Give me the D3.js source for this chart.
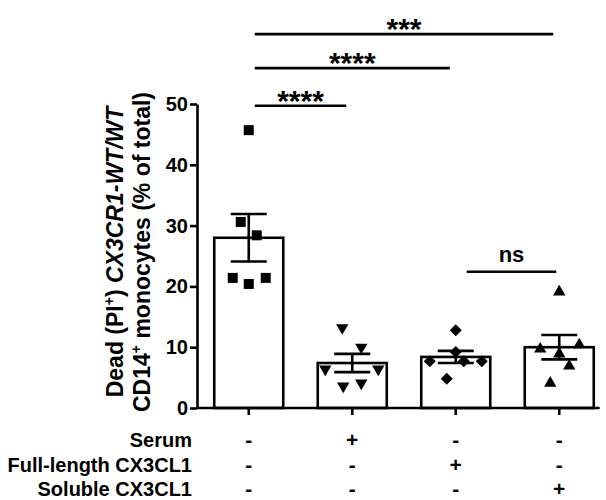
<!DOCTYPE html>
<html lang="en">
<head>
    <meta charset="UTF-8">
    <title>Dead CD14+ monocytes</title>
    <script src="https://cdn.jsdelivr.net/npm/d3@7/dist/d3.min.js"></script>
    <style>
        body { margin: 0; background: #fff; }
        text { font-family: "Liberation Sans", Arial, sans-serif; font-weight: bold; fill: #000; }
    </style>
</head>
<body>

<script>
    // data
    var groups = ["none", "serum", "full", "soluble"];
    var means = [28.0, 7.4, 8.4, 10.0];
    var sems = [3.9, 1.5, 1.0, 2.0];
    var points = [
        [45.7, 30.6, 28.4, 21.4, 20.4, 21.4],
        [13.2, 10.0, 6.4, 6.4, 3.6, 4.1],
        [12.8, 9.2, 7.7, 7.7, 7.7, 4.8],
        [19.1, 9.7, 8.9, 10.4, 6.9, 4.1]
    ];
    var yTicks = [0, 10, 20, 30, 40, 50];
    var rowLabels = ["Serum", "Full-length CX3CL1", "Soluble CX3CL1"];
    var treatment = [
        ["-", "+", "-", "-"],
        ["-", "-", "+", "-"],
        ["-", "-", "-", "+"]
    ];
    var brackets = [
        {a: 0, b: 1, level: 49.7, label: "****"},
        {a: 0, b: 2, level: 55.9, label: "****"},
        {a: 0, b: 3, level: 61.5, label: "***"},
        {a: 2, b: 3, level: 22.4, label: "ns"}
    ];

    // layout: horizontal scatter offsets (px) for each dot
    var jitter = [
        [0, -8, 8, -16, 0, 17],
        [-10, 9, -27, 26, -9, 9],
        [0, 0, -26, 8, 26, -9],
        [0, -19, 0, 20, 10, -9]
    ];

    var width = 606, height = 500;
    var svg = d3.select('body')
            .append('svg')
            .attr('width', width)
            .attr('height', height);

    var y = d3.scaleLinear().domain([0, 50]).range([408, 104]);
    var x = d3.scaleBand()
            .domain(groups)
            .range([197, 611])
            .paddingInner(1 / 3)
            .paddingOuter(1 / 6);

    var shapes = [
        {type: d3.symbolSquare, size: 100, rot: 0},
        {type: d3.symbolTriangle, size: 66, rot: 180},
        {type: d3.symbolSquare, size: 72, rot: 45},
        {type: d3.symbolTriangle, size: 66, rot: 0}
    ];

    var lw = 2.6;

    // bars
    svg.selectAll("rect.bar")
            .data(means)
            .enter()
            .append("rect")
            .attr("class", "bar")
            .attr("x", function (d, i) { return x(groups[i]); })
            .attr("y", function (d) { return y(d); })
            .attr("width", x.bandwidth())
            .attr("height", function (d) { return y(0) - y(d); })
            .attr("fill", "#fff")
            .attr("stroke", "#000")
            .attr("stroke-width", lw);

    // dots
    points.forEach(function (vals, gi) {
        var cx = x(groups[gi]) + x.bandwidth() / 2;
        var sym = d3.symbol().type(shapes[gi].type).size(shapes[gi].size);
        svg.selectAll("path.dot" + gi)
                .data(vals)
                .enter()
                .append("path")
                .attr("class", "dot" + gi)
                .attr("d", sym)
                .attr("fill", "#000")
                .attr("transform", function (d, j) {
                    return "translate(" + (cx + jitter[gi][j]) + "," + y(d) + ") rotate(" + shapes[gi].rot + ")";
                });
    });

    // error bars (mean +/- sem)
    var cap = 18;
    means.forEach(function (m, i) {
        var cx = x(groups[i]) + x.bandwidth() / 2;
        var g = svg.append("g").attr("stroke", "#000").attr("stroke-width", lw);
        g.append("line").attr("x1", cx).attr("x2", cx)
                .attr("y1", y(m + sems[i])).attr("y2", y(m - sems[i]));
        g.append("line").attr("x1", cx - cap).attr("x2", cx + cap)
                .attr("y1", y(m + sems[i])).attr("y2", y(m + sems[i]));
        g.append("line").attr("x1", cx - cap).attr("x2", cx + cap)
                .attr("y1", y(m - sems[i])).attr("y2", y(m - sems[i]));
    });

    // y axis
    var yAxis = svg.append("g")
            .attr("transform", "translate(197,0)")
            .call(d3.axisLeft(y).tickValues(yTicks).tickSize(7).tickSizeOuter(0).tickPadding(2));
    yAxis.selectAll("line, path").attr("stroke", "#000").attr("stroke-width", lw);
    yAxis.selectAll("text")
            .style("font-size", "20px")
            .style("font-family", '"Liberation Sans", Arial, sans-serif')
            .style("font-weight", "bold")
            .attr("fill", "#000");

    // x axis
    var xAxis = svg.append("g")
            .attr("transform", "translate(0," + y(0) + ")")
            .call(d3.axisBottom(x).tickSize(7).tickSizeOuter(0).tickFormat(""));
    xAxis.select(".domain").attr("d", "M" + x.range()[0] + ",0H" + (x.range()[1] - x.step() * 0.11));
    xAxis.selectAll("line, path").attr("stroke", "#000").attr("stroke-width", lw);

    // y label
    var ylab = svg.append("g").attr("transform", "translate(123,252) rotate(-90)");
    var l1 = ylab.append("text").attr("text-anchor", "middle").style("font-size", "23px");
    l1.append("tspan").text("Dead (PI");
    l1.append("tspan").text("+").style("font-size", "14px").attr("dy", -9);
    l1.append("tspan").text(") ").attr("dy", 9);
    l1.append("tspan").text("CX3CR1-WT/WT").style("font-style", "italic");
    var l2 = ylab.append("text").attr("text-anchor", "middle").attr("y", 27).style("font-size", "23px");
    l2.append("tspan").text("CD14");
    l2.append("tspan").text("+").style("font-size", "14px").attr("dy", -9);
    l2.append("tspan").text(" monocytes (% of total)").attr("dy", 9);

    // significance brackets
    brackets.forEach(function (b) {
        var x1 = x(groups[b.a]) + x.bandwidth() / 2 + 6;
        var x2 = x(groups[b.b]) + x.bandwidth() / 2 - 6;
        if (b.label === "ns") { x1 += 5; x2 += 3; }
        svg.append("line")
                .attr("x1", x1).attr("x2", x2)
                .attr("y1", y(b.level)).attr("y2", y(b.level))
                .attr("stroke", "#000").attr("stroke-width", lw);
        var isStar = b.label !== "ns";
        svg.append("text")
                .attr("x", (x1 + x2) / 2)
                .attr("y", y(b.level) - (isStar ? -5 : 10))
                .attr("text-anchor", "middle")
                .style("font-size", isStar ? "30px" : "22px")
                .text(b.label);
    });

    // treatment table
    rowLabels.forEach(function (lab, r) {
        var by = 447 + r * 24.5;
        svg.append("text")
                .attr("x", 192).attr("y", by)
                .attr("text-anchor", "end")
                .style("font-size", "20px")
                .text(lab);
        svg.selectAll("text.sign" + r)
                .data(treatment[r])
                .enter()
                .append("text")
                .attr("class", "sign" + r)
                .attr("x", function (d, i) { return x(groups[i]) + x.bandwidth() / 2; })
                .attr("y", by)
                .attr("text-anchor", "middle")
                .style("font-size", "21px")
                .text(function (d) { return d; });
    });
</script>
</body>
</html>
